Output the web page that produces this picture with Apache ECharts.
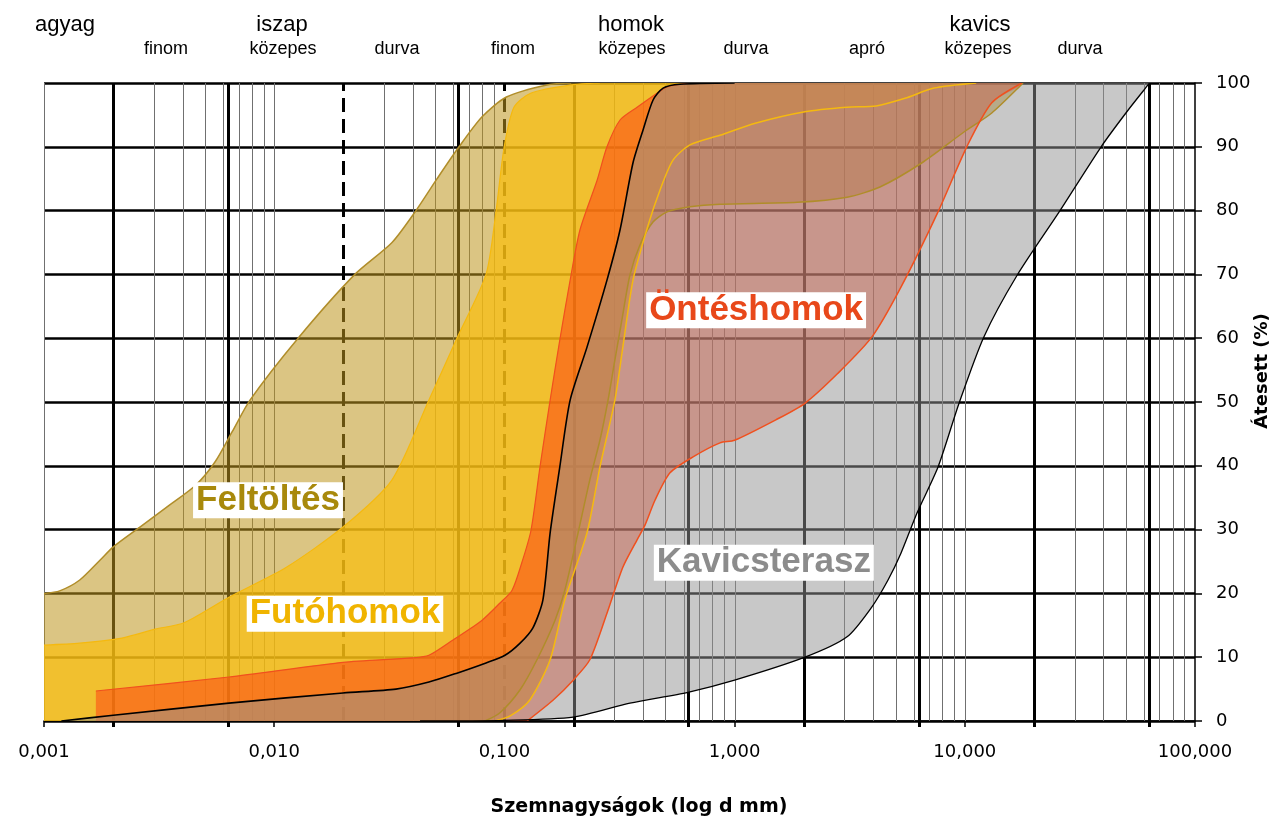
<!DOCTYPE html>
<html><head><meta charset="utf-8">
<script src="https://cdn.jsdelivr.net/npm/echarts@6/dist/echarts.min.js"></script>
<style>html,body{margin:0;padding:0;background:#fff;overflow:hidden;width:1277px;height:827px}#c{width:1277px;height:827px}</style>
</head><body><div id="c"></div>
<script>
// ---- data (grain size mm, passing %) ----
const feltoltesFine = [[0.001,20],[0.00117,20.4],[0.00143,22.1],[0.00175,25.2],[0.002,27.3],[0.00261,30.4],[0.00353,33.9],[0.00457,37.0],[0.00553,40.6],[0.00656,45.3],[0.00785,50.3],[0.0127,60],[0.0224,70],[0.0325,75],[0.0413,80],[0.051,85],[0.0635,90],[0.08,94.7],[0.102,97.8],[0.153,99.7],[0.195,100]];
const feltoltesCoarse = [[0.0823,0],[0.0957,1.3],[0.117,4.9],[0.1385,9.6],[0.166,15.8],[0.183,20.5],[0.209,29.5],[0.235,37.8],[0.26,44],[0.282,50.3],[0.302,56.6],[0.324,62.9],[0.351,69.9],[0.388,74.6],[0.442,78.2],[0.509,79.8],[0.64,80.6],[0.864,81],[1.87,81.3],[3.08,82.1],[4.28,83.7],[6.52,87.5],[9.82,92.2],[13.1,95.3],[17.7,99.8],[17.9,100]];
const futohomokFine = [[0.001,11.9],[0.00143,12.2],[0.00218,13],[0.00304,14.4],[0.00406,15.4],[0.00636,19.4],[0.0113,24.1],[0.0199,30.4],[0.0325,37.8],[0.047,50.3],[0.0622,60],[0.0832,70],[0.0919,79.8],[0.0996,89.8],[0.11,96.2],[0.13,98.4],[0.195,99.7],[0.26,100]];
const futohomokCoarse = [[0.091,0],[0.106,0.8],[0.129,3.3],[0.158,9.6],[0.183,19],[0.2285,29.5],[0.26,39.8],[0.302,50.3],[0.327,58.6],[0.362,69.1],[0.421,77.7],[0.474,83.2],[0.54,87.9],[0.64,90.3],[0.864,91.8],[1.23,93.7],[2.02,95.5],[3.08,96.2],[4.12,96.4],[5.5,97.6],[7.35,99.2],[11.2,100]];
const onteshomokFine = [[0.00168,4.7],[0.00636,6.9],[0.0199,9.2],[0.0397,9.9],[0.047,10.3],[0.0598,12.7],[0.08,15.8],[0.0957,18.5],[0.108,20.5],[0.119,24.8],[0.1305,29.9],[0.1427,39.8],[0.158,50.3],[0.174,59.7],[0.193,69.1],[0.213,77],[0.253,84.8],[0.279,90],[0.318,94.2],[0.377,96.2],[0.46,98.4],[0.509,99.4],[0.64,100]];
const onteshomokCoarse = [[0.1254,0],[0.163,3.3],[0.199,6.4],[0.235,9.6],[0.279,16.9],[0.327,24.1],[0.377,28.4],[0.408,30.7],[0.451,34.6],[0.524,38.9],[0.66,41.4],[0.864,43.6],[1.0,44],[1.51,47.2],[2.02,49.8],[2.81,54.5],[3.95,60.2],[5.28,68],[7.65,79.8],[10.2,90],[13.1,96.9],[17.7,100]];
const kavicsFine = [[0.00119,0],[0.002,0.9],[0.00636,2.8],[0.0199,4.4],[0.0338,5],[0.047,6.1],[0.0622,7.5],[0.0832,9.1],[0.1006,10.3],[0.117,12.2],[0.133,14.6],[0.147,19],[0.158,29.5],[0.174,39.8],[0.193,50.3],[0.2285,58.6],[0.279,69.1],[0.318,77],[0.362,87.5],[0.4,92.6],[0.442,97.3],[0.489,99.2],[0.579,99.8],[1.0,100]];
const kavicsCoarse = [[0.043,0],[0.1,0.1],[0.199,0.6],[0.351,2.8],[0.627,4.5],[1.0,6.4],[2.02,10],[3.08,13.2],[3.95,17.9],[4.64,22.1],[5.28,26.3],[6.2,32.6],[7.65,39.8],[9.44,49.8],[12.1,60.2],[16.9,69.9],[25.7,79.8],[39.1,90],[50.1,95.3],[62.5,99.7],[63.5,100]];

const bandNames = ['Feltöltés','Futóhomok','Öntéshomok','Kavicsterasz'];
const bandLabelAnchors = [[0.0094,34.6],[0.0203,16.8],[1.24,64.4],[1.34,24.8]];

// gridline positions (mm)
const gridThin = [0.001,0.003,0.004,0.005,0.006,0.007,0.008,0.009,0.01,0.03,0.04,0.05,0.06,0.07,0.08,0.09,0.3,0.4,0.5,0.6,0.7,0.8,0.9,1,3,4,5,6,7,8,9,10,30,40,50,60,70,80,90];
const gridThick = [0.002,0.0063,0.063,0.2,0.63,2,6.3,20,63];
const gridDashed = [0.02,0.1];

const classTop = [['agyag',65],['iszap',282],['homok',631],['kavics',980]];
const classSub = [['finom',166],['közepes',283],['durva',397],['finom',513],['közepes',632],['durva',746],['apró',867],['közepes',978],['durva',1080]];

// ---- styling ----
const bandFill = ['rgba(190,150,30,0.55)','rgba(249,190,15,0.72)','rgba(255,55,15,0.5)','rgba(145,145,145,0.5)'];
const bandLine = ['#b08d2a','#f5b90f','#f0501e','#000000'];
const labelColor = ['#a8890c','#f0b400','#e8481a','#8c8c8c'];

const chart = echarts.init(document.getElementById('c'), null, {width:1277, height:827});

function gridSeries(vals, stroke, width, dash, ext){
  return {type:'custom', z:1, silent:true, data: vals.map(v=>[v,50]),
    renderItem(params, api){
      const a = api.coord([api.value(0),0]);
      const b = api.coord([api.value(0),100]);
      const x = Math.round(a[0]) + (width % 2 ? 0.5 : 0);
      return {type:'line', shape:{x1:x,y1:a[1]+ext,x2:x,y2:b[1]},
        style:{stroke:stroke, lineWidth:width, lineDash:dash||null}};
    }};
}
// corners (first/last points) are doubled so the smoothing keeps them sharp
function polySeries(pre, fine, coarse, fill, z){
  return {type:'custom', z:z, silent:true, clip:true, data:[[1,50]],
    renderItem(params, api){
      const rc = coarse.slice().reverse();
      const seq = [].concat(pre, pre, [fine[0]], fine, rc, [rc[rc.length-1]]);
      return {type:'polygon', shape:{points:seq.map(p=>api.coord(p)), smooth:0.25}, style:{fill:fill}};
    }};
}
function lineSeries(pts, stroke, width){
  return {type:'custom', z:10, silent:true, clip:true, data:[[1,50]],
    renderItem(params, api){
      return {type:'polyline', shape:{points:pts.map(p=>api.coord(p)), smooth:0.25},
        style:{stroke:stroke, lineWidth:width, fill:'none'}};
    }};
}

const axisFont = 'DejaVu Sans';
const graphic = [];
classTop.forEach(([t,x])=>graphic.push({type:'text', x:x, y:25, silent:true,
  style:{text:t, font:'22px "Liberation Sans", Arial, sans-serif', fill:'#000', align:'center', verticalAlign:'middle'}}));
classSub.forEach(([t,x])=>graphic.push({type:'text', x:x, y:49, silent:true,
  style:{text:t, font:'18px "Liberation Sans", Arial, sans-serif', fill:'#000', align:'center', verticalAlign:'middle'}}));
graphic.push({type:'text', x:639, y:807, silent:true,
  style:{text:'Szemnagyságok (log d mm)', font:'bold 19px "DejaVu Sans", sans-serif', fill:'#000', align:'center', verticalAlign:'middle'}});
graphic.push({type:'text', x:1262, y:371, rotation:Math.PI/2, silent:true,
  style:{text:'Átesett (%)', font:'bold 18px "DejaVu Sans", sans-serif', fill:'#000', align:'center', verticalAlign:'middle'}});

chart.setOption({
  animation:false,
  backgroundColor:'#fff',
  grid:{left:44, right:82, top:83, bottom:106},
  xAxis:{type:'log', logBase:10, min:0.001, max:100, splitNumber:5,
    axisLine:{show:true, lineStyle:{color:'#000', width:1.5}},
    axisTick:{show:true, length:6, lineStyle:{color:'#000', width:1.5}},
    minorTick:{show:false}, splitLine:{show:false},
    axisLabel:{margin:22, fontFamily:axisFont, fontSize:18, color:'#000',
      formatter:v=>Number(v).toFixed(3).replace('.',',')}},
  yAxis:{type:'value', position:'right', min:0, max:100, interval:10,
    axisLine:{show:true, lineStyle:{color:'#000', width:1.5}},
    axisTick:{show:true, length:7, lineStyle:{color:'#000', width:1.5}},
    axisLabel:{margin:21, fontFamily:axisFont, fontSize:18, color:'#000'},
    splitLine:{show:true, lineStyle:{color:'#000', width:2.5}}},
  graphic: graphic,
  series:[
    gridSeries(gridThin,'#707070',1,null,0),
    gridSeries(gridThick,'#000',3,null,6),
    gridSeries(gridDashed,'#000',3,[14,7],0),
    polySeries([[0.001,0]], feltoltesFine, feltoltesCoarse, bandFill[0], 2),
    polySeries([[0.001,0]], futohomokFine, futohomokCoarse, bandFill[1], 3),
    polySeries([[0.00168,0]], onteshomokFine, onteshomokCoarse, bandFill[2], 4),
    polySeries([], kavicsFine, kavicsCoarse, bandFill[3], 5),
    lineSeries(feltoltesFine, bandLine[0], 1.5),
    lineSeries(feltoltesCoarse, bandLine[0], 1.5),
    lineSeries(futohomokFine, bandLine[1], 1.2),
    lineSeries(futohomokCoarse, bandLine[1], 1.5),
    lineSeries(onteshomokFine, bandLine[2], 1.2),
    lineSeries(onteshomokCoarse, bandLine[2], 1.5),
    lineSeries(kavicsFine, bandLine[3], 1.6),
    lineSeries(kavicsCoarse, bandLine[3], 1.3),
    {type:'custom', z:20, silent:true,
      data: bandLabelAnchors.map((p,i)=>[p[0],p[1],i]),
      renderItem(params, api){
        const i = api.value(2);
        const c = api.coord([api.value(0), api.value(1)]);
        return {type:'text', x:c[0], y:c[1],
          style:{text:bandNames[i], fill:labelColor[i],
            font:'bold 35px "Liberation Sans", Arial, sans-serif',
            align:'center', verticalAlign:'middle',
            backgroundColor:'#fff', padding:[5,3,0,3], lineHeight:31}};
      }}
  ]
});
</script></body></html>
